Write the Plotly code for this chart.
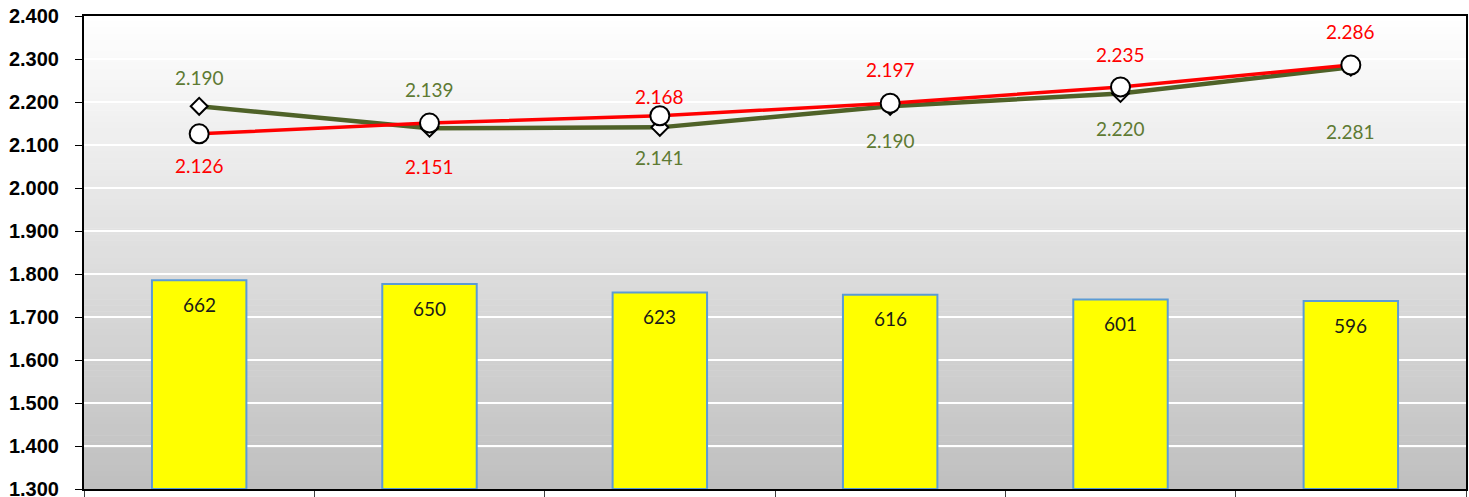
import plotly.graph_objects as go

# ------------------------------------------------------------------ #
# Data
# ------------------------------------------------------------------ #
categories = ["P1", "P2", "P3", "P4", "P5", "P6"]
bar_values = [662, 650, 623, 616, 601, 596]
red_values = [2.126, 2.151, 2.168, 2.197, 2.235, 2.286]
green_values = [2.190, 2.139, 2.141, 2.190, 2.220, 2.281]

# label offsets in px (negative = above the point)
red_shift = [32, 43, -19, -34, -32, -34]
green_shift = [-29, -39, 30, 34, 35, 64]

y_ticks = [1.3 + 0.1 * i for i in range(12)]

GREEN = "#4F6228"
GREEN_TXT = "#5E7A33"
RED = "#FF0000"

fig = go.Figure()

# vertical gradient background (white -> light grey)
steps = 80
for i in range(steps):
    t = (i + 0.5) / steps
    g = int(round(255 - t * 64))
    fig.add_shape(
        type="rect", xref="x domain", yref="y domain",
        x0=0, x1=1, y0=1 - (i + 1) / steps, y1=1 - i / steps + 0.001,
        fillcolor=f"rgb({g},{g},{g})", line=dict(width=0), layer="below",
    )

fig.add_trace(
    go.Scatter(
        x=categories, y=green_values, mode="lines+markers",
        line=dict(color=GREEN, width=4.5),
        marker=dict(symbol="diamond", size=13, color="white",
                    line=dict(color="black", width=2)),
        showlegend=False, hoverinfo="skip",
    )
)
fig.add_trace(
    go.Scatter(
        x=categories, y=red_values, mode="lines+markers",
        line=dict(color=RED, width=3.5),
        marker=dict(symbol="circle", size=19, color="white",
                    line=dict(color="black", width=2)),
        showlegend=False, hoverinfo="skip",
    )
)

fig.add_trace(
    go.Bar(
        x=categories, y=bar_values, yaxis="y2", width=0.41,
        marker=dict(color="#FFFF00", line=dict(color="#5B9BD5", width=2)),
        showlegend=False, hoverinfo="skip",
    )
)

label_font = "Lato"
for i, val in enumerate(bar_values):
    fig.add_annotation(x=i, y=val, yref="y2", text=str(val), showarrow=False,
                       yshift=-24, font=dict(family=label_font, size=19, color="#1a1a1a"))
for i, (val, sh) in enumerate(zip(red_values, red_shift)):
    fig.add_annotation(x=i, y=val, text=f"{val:.3f}", showarrow=False,
                       yshift=-sh, font=dict(family=label_font, size=19, color=RED))
for i, (val, sh) in enumerate(zip(green_values, green_shift)):
    fig.add_annotation(x=i, y=val, text=f"{val:.3f}", showarrow=False,
                       yshift=-sh, font=dict(family=label_font, size=19, color=GREEN_TXT))

fig.update_layout(
    width=1469, height=497,
    margin=dict(l=84, r=3, t=16, b=8),
    paper_bgcolor="white", plot_bgcolor="rgba(0,0,0,0)",
    xaxis=dict(
        type="category", showticklabels=False, automargin=False,
        ticks="outside", tickson="boundaries", ticklen=6, tickcolor="#404040",
        showline=True, linecolor="black", linewidth=2, mirror=True,
        showgrid=False, zeroline=False,
    ),
    yaxis=dict(
        range=[1.3, 2.4], tickvals=y_ticks, automargin=False,
        ticktext=[f"{v:.3f}" for v in y_ticks],
        ticks="outside", ticklen=7, tickcolor="black", ticklabelstandoff=12,
        ticklabeloverflow="allow",
        tickfont=dict(family="Liberation Sans", size=20, color="black", weight="bold"),
        showline=True, linecolor="black", linewidth=2, mirror=True,
        showgrid=True, gridcolor="white", gridwidth=2, zeroline=False,
    ),
    yaxis2=dict(
        range=[0, 1500], overlaying="y", side="right", visible=False,
        showgrid=False,
    ),
)

fig.write_html(
    "out.html", config={"displayModeBar": False},
    post_script="document.body.style.margin='0';document.body.style.overflow='hidden';",
)
